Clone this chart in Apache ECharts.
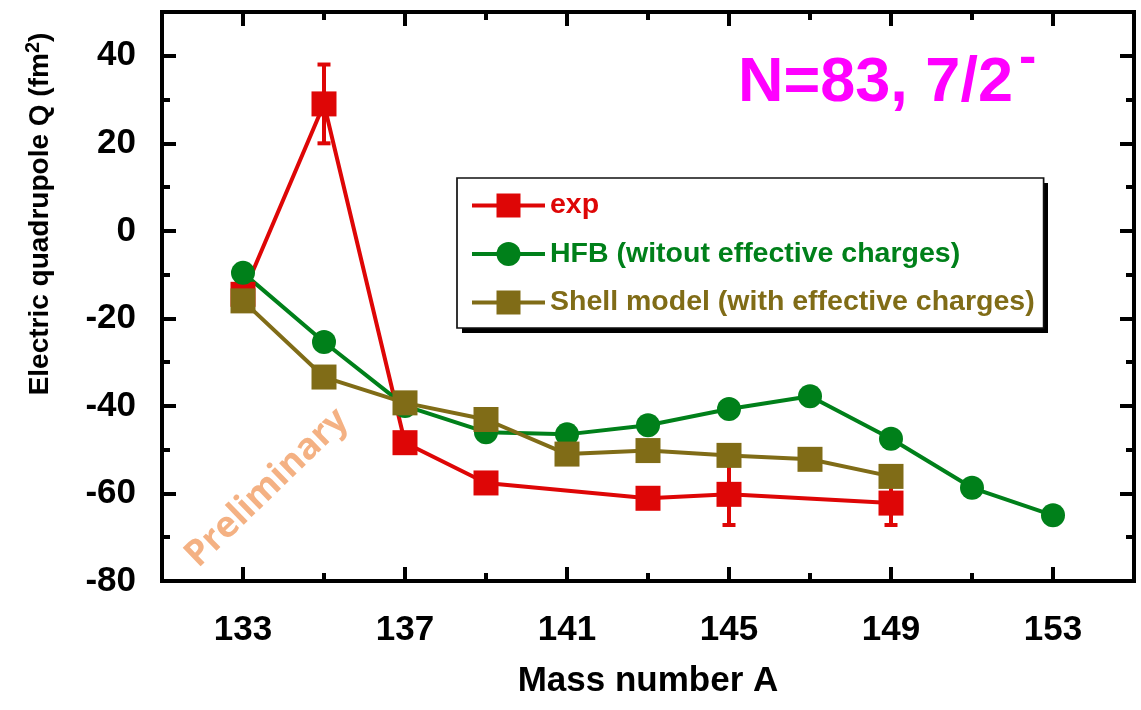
<!DOCTYPE html>
<html>
<head>
<meta charset="utf-8">
<script src="https://cdn.jsdelivr.net/npm/echarts@6/dist/echarts.min.js"></script>
<style>
  html, body { margin: 0; padding: 0; background: #fff; }
  #chart { width: 1141px; height: 710px; }
</style>
</head>
<body>
<div id="chart"></div>
<script>
// Electric quadrupole moments of N=83 isotones, 7/2- state
const massExp = [133, 135, 137, 139, 143, 145, 149];
const qExp    = [-14.5, 29, -48.4, -57.6, -61.1, -60.2, -62.2];
const errExp  = [null, 9, null, null, null, 7, 5];

const massHFB = [133, 135, 137, 139, 141, 143, 145, 147, 149, 151, 153];
const qHFB    = [-9.6, -25.4, -40, -46, -46.5, -44.4, -40.7, -37.8, -47.5, -58.7, -65];

const massShell = [133, 135, 137, 139, 141, 143, 145, 147, 149];
const qShell    = [-16, -33.4, -39.3, -43.1, -51, -50.2, -51.3, -52.2, -56.1];

const xMajorTicks = [133, 137, 141, 145, 149, 153];
const xMinorTicks = [135, 139, 143, 147, 151];
const yMajorTicks = [-80, -60, -40, -20, 0, 20, 40];
const yMinorTicks = [-70, -50, -30, -10, 10, 30];

const seriesNames = ['exp', 'HFB (witout effective charges)', 'Shell model (with effective charges)'];

const RED = '#DE0606', GREEN = '#00801A', BROWN = '#806C17', MAGENTA = '#FF00FF';
const FONT = '"Liberation Sans", Arial, sans-serif';
const X_RANGE = [131, 155], Y_RANGE = [-80, 50];

const pairs = (xs, ys) => xs.map((x, i) => [x, ys[i]]);

const errData = [];
massExp.forEach((m, i) => {
  if (errExp[i] != null) errData.push([m, qExp[i] - errExp[i], qExp[i] + errExp[i]]);
});

function axisDef(position, range, ticks, len, labelMargin) {
  return {
    type: 'value', position, min: range[0], max: range[1],
    axisLine: { show: false, onZero: false },
    splitLine: { show: false },
    axisTick: { show: true, inside: true, length: len, customValues: ticks,
                lineStyle: { color: '#000', width: 4 } },
    axisLabel: labelMargin != null
      ? { show: true, customValues: ticks, margin: labelMargin, color: '#000',
          fontFamily: FONT, fontWeight: 'bold', fontSize: 35 }
      : { show: false }
  };
}

const xMain = axisDef('bottom', X_RANGE, xMajorTicks, 14, 32);
xMain.name = 'Mass number A';
xMain.nameLocation = 'middle';
xMain.nameGap = 83;
xMain.nameTextStyle = { fontFamily: FONT, fontWeight: 'bold', fontSize: 35, color: '#000' };

const chart = echarts.init(document.getElementById('chart'), null, { renderer: 'canvas' });

chart.setOption({
  animation: false,
  backgroundColor: '#fff',
  grid: {
    left: 162, top: 12, right: 7, bottom: 129,
    show: true, borderColor: '#000', borderWidth: 4, backgroundColor: 'transparent'
  },
  xAxis: [
    xMain,
    axisDef('bottom', X_RANGE, xMinorTicks, 8),
    axisDef('top', X_RANGE, xMajorTicks, 14),
    axisDef('top', X_RANGE, xMinorTicks, 8)
  ],
  yAxis: [
    axisDef('left', Y_RANGE, yMajorTicks, 14, 26),
    axisDef('left', Y_RANGE, yMinorTicks, 8),
    axisDef('right', Y_RANGE, yMajorTicks, 14),
    axisDef('right', Y_RANGE, yMinorTicks, 8)
  ],
  legend: {
    orient: 'vertical',
    left: 457, top: 178,
    padding: [13, 9, 11, 13],
    itemWidth: 73, itemHeight: 30, itemGap: 19.5,
    backgroundColor: '#fff',
    borderColor: '#111', borderWidth: 1.7,
    selectedMode: false,
    lineStyle: { width: 4 },
    textStyle: { fontFamily: FONT, fontWeight: 'bold', fontSize: 28.5 },
    data: [
      { name: seriesNames[0], textStyle: { color: RED } },
      { name: seriesNames[1], textStyle: { color: GREEN } },
      { name: seriesNames[2], textStyle: { color: BROWN } }
    ]
  },
  graphic: [
    // drop shadow behind the legend box
    {
      type: 'rect', z: 3, silent: true,
      shape: { x: 462, y: 183, width: 586, height: 150 },
      style: { fill: '#000' }
    },
    {
      type: 'text', x: 40, y: 214, rotation: Math.PI / 2,
      style: {
        text: '{a|Electric quadrupole Q (fm}{s|2}{a|)}',
        align: 'center', verticalAlign: 'middle',
        rich: {
          a: { fontFamily: FONT, fontWeight: 'bold', fontSize: 28, fill: '#000', lineHeight: 34 },
          s: { fontFamily: FONT, fontWeight: 'bold', fontSize: 20, fill: '#000', lineHeight: 6, verticalAlign: 'top' }
        }
      }
    },
    {
      type: 'text', x: 738, y: 84,
      style: { text: 'N=83, 7/2', fill: MAGENTA, font: 'bold 63px ' + FONT,
               align: 'left', verticalAlign: 'middle' }
    },
    {
      type: 'text', x: 1019, y: 59,
      style: { text: '-', fill: MAGENTA, font: 'bold 52px ' + FONT,
               align: 'left', verticalAlign: 'middle' }
    },
    {
      type: 'text', x: 267, y: 488, rotation: Math.PI * 44 / 180,
      style: { text: 'Preliminary', fill: '#F4B183', font: 'bold 36px "Open Sans", sans-serif',
               align: 'center', verticalAlign: 'middle' }
    }
  ],
  series: [
    {
      name: seriesNames[0], type: 'line', xAxisIndex: 0, yAxisIndex: 0,
      data: pairs(massExp, qExp),
      symbol: 'rect', symbolSize: 25,
      lineStyle: { color: RED, width: 4 },
      itemStyle: { color: RED },
      emphasis: { disabled: true }
    },
    {
      name: 'exp error', type: 'custom', xAxisIndex: 0, yAxisIndex: 0,
      data: errData,
      encode: { x: 0, y: [1, 2] },
      renderItem: function (params, api) {
        const x = api.value(0);
        const lo = api.coord([x, api.value(1)]);
        const hi = api.coord([x, api.value(2)]);
        const half = 6.5;
        const st = { stroke: RED, lineWidth: 4 };
        return {
          type: 'group',
          children: [
            { type: 'line', shape: { x1: lo[0], y1: lo[1], x2: hi[0], y2: hi[1] }, style: st },
            { type: 'line', shape: { x1: lo[0] - half, y1: lo[1], x2: lo[0] + half, y2: lo[1] }, style: st },
            { type: 'line', shape: { x1: hi[0] - half, y1: hi[1], x2: hi[0] + half, y2: hi[1] }, style: st }
          ]
        };
      }
    },
    {
      name: seriesNames[1], type: 'line', xAxisIndex: 0, yAxisIndex: 0,
      data: pairs(massHFB, qHFB),
      symbol: 'circle', symbolSize: 24,
      lineStyle: { color: GREEN, width: 4 },
      itemStyle: { color: GREEN },
      emphasis: { disabled: true }
    },
    {
      name: seriesNames[2], type: 'line', xAxisIndex: 0, yAxisIndex: 0,
      data: pairs(massShell, qShell),
      symbol: 'rect', symbolSize: 25,
      lineStyle: { color: BROWN, width: 4 },
      itemStyle: { color: BROWN },
      emphasis: { disabled: true }
    }
  ]
});
</script>
</body>
</html>
